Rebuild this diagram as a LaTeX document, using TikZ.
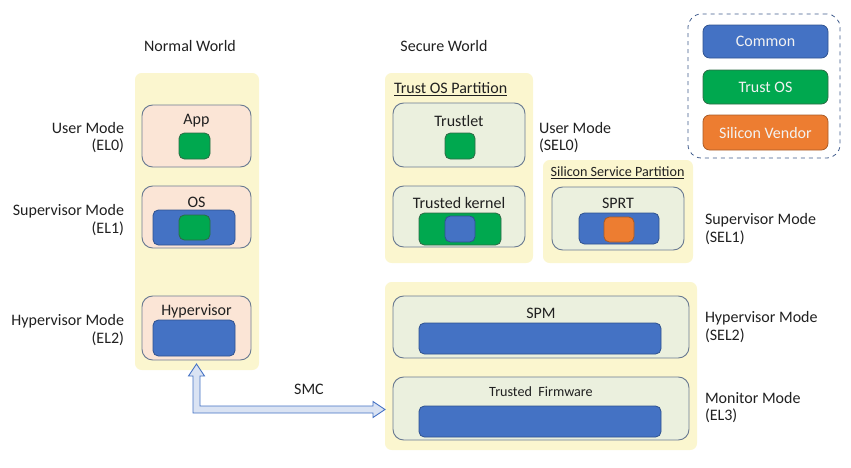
\documentclass[tikz,border=0pt]{standalone}
\usepackage{fontspec}
\setmainfont{Carlito}
\usetikzlibrary{calc}
\definecolor{panelc}{HTML}{FBF6CF}
\definecolor{pinkc}{HTML}{FBE5D6}
\definecolor{lgreenc}{HTML}{EBF0DE}
\definecolor{edgec}{HTML}{6B7B92}
\definecolor{bluec}{HTML}{4472C4}
\definecolor{blueedge}{HTML}{2F528F}
\definecolor{greenc}{HTML}{00A84F}
\definecolor{greenedge}{HTML}{2E6B45}
\definecolor{orangec}{HTML}{ED7D31}
\definecolor{orangeedge}{HTML}{A85A26}
\definecolor{arrowfill}{HTML}{DAE3F3}
\definecolor{textc}{HTML}{202020}
\begin{document}
\begin{tikzpicture}[x=0.75pt,y=-0.75pt,
  every node/.style={inner sep=0pt, outer sep=0pt, text=textc},
  panel/.style={fill=panelc, draw=none, rounded corners=5pt},
  pinkbox/.style={fill=pinkc, draw=edgec, line width=0.7pt, rounded corners=8pt},
  gbox/.style={fill=lgreenc, draw=edgec, line width=0.7pt, rounded corners=8pt},
  bluebox/.style={fill=bluec, draw=blueedge, line width=0.6pt, rounded corners=4pt},
  greenbox/.style={fill=greenc, draw=greenedge, line width=0.6pt, rounded corners=4pt},
  orangebox/.style={fill=orangec, draw=orangeedge, line width=0.6pt, rounded corners=4pt},
  lbl/.style={font=\fontsize{12}{14.4}\selectfont},
  sml/.style={font=\fontsize{10.6}{12}\selectfont},
  legend/.style={font=\fontsize{12}{14.4}\selectfont, text=white!95!black}
]
\useasboundingbox (0,0) rectangle (851,468);

% ---------- Normal world ----------
\node[panel, minimum width=124*0.75pt, minimum height=297*0.75pt] (nw) at (197,221.5) {};
\node[pinkbox, minimum width=109*0.75pt, minimum height=62*0.75pt] (app) at (196.5,136) {};
\node[lbl] (apptxt) at (196.5,121) {App};
\node[greenbox, minimum width=31*0.75pt, minimum height=26*0.75pt] (appg) at (194.5,146) {};

\node[pinkbox, minimum width=109*0.75pt, minimum height=62*0.75pt] (os) at (196.5,217) {};
\node[lbl] (ostxt) at (196.5,202) {OS};
\node[bluebox, minimum width=82*0.75pt, minimum height=35*0.75pt] (osb) at (194,227.5) {};
\node[greenbox, minimum width=31*0.75pt, minimum height=25*0.75pt] (osg) at (194.5,227.5) {};

\node[pinkbox, minimum width=109*0.75pt, minimum height=64*0.75pt] (hyp) at (196.5,328) {};
\node[lbl] (hyptxt) at (196.5,311) {Hypervisor};
\node[bluebox, minimum width=82*0.75pt, minimum height=36*0.75pt] (hypb) at (194,338) {};

% ---------- Secure world: Trust OS partition ----------
\node[panel, minimum width=148*0.75pt, minimum height=190*0.75pt] (tosp) at (459,168) {};
\node[lbl, anchor=west] (tosptxt) at (394,89) {\underline{Trust OS Partition}};
\node[gbox, minimum width=132*0.75pt, minimum height=64*0.75pt] (tlet) at (459,135) {};
\node[lbl] (tlettxt) at (459,121) {Trustlet};
\node[greenbox, minimum width=30*0.75pt, minimum height=26*0.75pt] (tletg) at (460,146) {};
\node[gbox, minimum width=132*0.75pt, minimum height=61*0.75pt] (tk) at (459,216.5) {};
\node[lbl] (tktxt) at (459,203) {Trusted kernel};
\node[greenbox, minimum width=82*0.75pt, minimum height=32*0.75pt] (tkg) at (460,229) {};
\node[bluebox, minimum width=30*0.75pt, minimum height=26*0.75pt] (tkb) at (460,229) {};

% ---------- Silicon service partition ----------
\node[panel, minimum width=150*0.75pt, minimum height=103*0.75pt] (ssp) at (618,211.5) {};
\node[sml] (ssptxt) at (617.5,173) {\underline{Silicon Service Partition}};
\node[gbox, minimum width=132*0.75pt, minimum height=63*0.75pt] (sprt) at (618,218.5) {};
\node[lbl] (sprttxt) at (618,203) {SPRT};
\node[bluebox, minimum width=80*0.75pt, minimum height=31*0.75pt] (sprtb) at (619,228.5) {};
\node[orangebox, minimum width=30*0.75pt, minimum height=25*0.75pt] (sprto) at (619,229.5) {};

% ---------- Lower secure panel ----------
\node[panel, minimum width=312*0.75pt, minimum height=168*0.75pt] (low) at (541,366) {};
\node[gbox, minimum width=296*0.75pt, minimum height=62*0.75pt] (spm) at (541,327) {};
\node[lbl] (spmtxt) at (541,313) {SPM};
\node[bluebox, minimum width=242*0.75pt, minimum height=31*0.75pt] (spmb) at (540,338.5) {};
\node[gbox, minimum width=296*0.75pt, minimum height=63*0.75pt] (tf) at (541,408.5) {};
\node[sml] (tftxt) at (541,392) {Trusted\ \ Firmware};
\node[bluebox, minimum width=242*0.75pt, minimum height=31*0.75pt] (tfb) at (540,421.5) {};

% ---------- Legend ----------
\node[draw=blueedge!80!gray, dashed, line width=0.6pt, rounded corners=10pt,
      minimum width=152*0.75pt, minimum height=144*0.75pt] (leg) at (764,86) {};
\node[bluebox, rounded corners=5pt, minimum width=125*0.75pt, minimum height=33*0.75pt, legend] (lc) at (765.5,41.5) {Common};
\node[greenbox, rounded corners=5pt, minimum width=125*0.75pt, minimum height=34*0.75pt, legend] (lt) at (765.5,87) {Trust OS};
\node[orangebox, rounded corners=5pt, minimum width=125*0.75pt, minimum height=35*0.75pt, legend] (ls) at (765.5,132.5) {Silicon Vendor};

% ---------- Titles and mode labels ----------
\node[lbl] (nwt) at (190,46) {Normal World};
\node[lbl] (swt) at (444,46) {Secure World};

\node[lbl, anchor=east] (um1) at (124,128) {User Mode};
\node[lbl, anchor=east] (um2) at (124,146) {(EL0)};
\node[lbl, anchor=east] (sm1) at (124,211) {Supervisor Mode};
\node[lbl, anchor=east] (sm2) at (124,229) {(EL1)};
\node[lbl, anchor=east] (hm1) at (124,321) {Hypervisor Mode};
\node[lbl, anchor=east] (hm2) at (124,339) {(EL2)};

\node[lbl, anchor=west] (su1) at (539,128) {User Mode};
\node[lbl, anchor=west] (su2) at (539,146) {(SEL0)};
\node[lbl, anchor=west] (ss1) at (705,220) {Supervisor Mode};
\node[lbl, anchor=west] (ss2) at (705,238) {(SEL1)};
\node[lbl, anchor=west] (sh1) at (705,318) {Hypervisor Mode};
\node[lbl, anchor=west] (sh2) at (705,336) {(SEL2)};
\node[lbl, anchor=west] (mm1) at (705,398) {Monitor Mode};
\node[lbl, anchor=west] (mm2) at (705,416) {(EL3)};

\node[lbl] (smc) at (309,389) {SMC};

% ---------- SMC double arrow ----------
\coordinate (tipA) at (196.5,364);
\coordinate (tipB) at (385,409.5);
\coordinate (corner) at (tipA |- tipB);
\draw[fill=arrowfill, draw=bluec, line width=0.7pt, line join=miter]
  (tipA) -- ($(tipA)+(8,12)$) -- ($(tipA)+(3.5,12)$) -- ($(corner)+(3.5,-3.5)$)
  -- ($(tipB)+(-12,-3.5)$) -- ($(tipB)+(-12,-8)$) -- (tipB) -- ($(tipB)+(-12,8)$)
  -- ($(tipB)+(-12,3.5)$) -- ($(corner)+(-3.5,3.5)$) -- ($(tipA)+(-3.5,12)$)
  -- ($(tipA)+(-8,12)$) -- cycle;
\end{tikzpicture}
\end{document}
